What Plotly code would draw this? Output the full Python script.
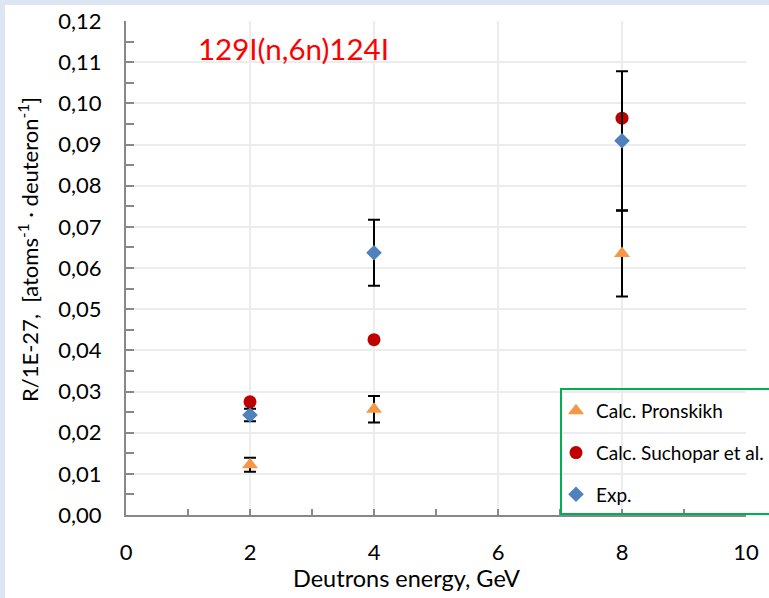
import plotly.graph_objects as go

energy = [2, 4, 8]
pronskikh = [0.0122, 0.0257, 0.0635]
pronskikh_err = [0.0017, 0.0032, 0.0104]
suchopar = [0.0275, 0.0426, 0.0964]
exp_vals = [0.0243, 0.0637, 0.0909]
exp_err = [0.0015, 0.0080, 0.0169]

W, H = 769, 598
L, R, T, B = 126, 746, 21, 515

def px(x):
    return (x - L) / (R - L)

def py(y):
    return (B - y) / (B - T)

FONT = "Lato, Carlito, Calibri, sans-serif"

fig = go.Figure()
fig.add_trace(go.Scatter(
    x=energy, y=pronskikh, mode="markers", name="Calc. Pronskikh",
    legendgroup="a",
    marker=dict(symbol="triangle-up", size=14, color="#f79646"),
    error_y=dict(type="data", array=pronskikh_err, color="black", thickness=2, width=6),
))
fig.add_trace(go.Scatter(
    x=energy, y=suchopar, mode="markers", name="Calc. Suchopar et al.",
    legendgroup="b",
    marker=dict(symbol="circle", size=13, color="#c00000"),
))
fig.add_trace(go.Scatter(
    x=energy, y=exp_vals, mode="markers", name="Exp.",
    legendgroup="c",
    marker=dict(symbol="diamond", size=12, color="#4f81bd"),
    error_y=dict(type="data", array=exp_err, color="black", thickness=2, width=6),
))

fig.update_layout(
    width=W, height=H,
    margin=dict(l=L, r=W - R, t=T, b=H - B, pad=0, autoexpand=False),
    paper_bgcolor="white",
    plot_bgcolor="white",
    separators=", ",
    font=dict(family=FONT, color="black"),
    showlegend=True,
    legend=dict(
        x=px(556), y=py(392), xanchor="left", yanchor="top",
        bgcolor="rgba(0,0,0,0)", borderwidth=0,
        font=dict(family=FONT, size=19, color="black"),
        tracegroupgap=14, traceorder="grouped",
    ),
    xaxis=dict(
        range=[0, 10], dtick=2, tick0=0,
        showgrid=True, gridcolor="#ececec", gridwidth=1.5,
        showline=True, linecolor="#888888", linewidth=2,
        ticks="inside", ticklen=6, tickcolor="#888888", tickwidth=2,
        minor=dict(dtick=1, ticks="inside", ticklen=6, tickcolor="#888888", tickwidth=2, showgrid=False),
        tickfont=dict(family=FONT, size=22),
        ticklabelstandoff=17,
        zeroline=False, mirror=False, automargin=False,
    ),
    yaxis=dict(
        range=[0, 0.12], dtick=0.01, tick0=0, tickformat=".2f",
        showgrid=True, gridcolor="#ececec", gridwidth=1.5,
        showline=True, linecolor="#888888", linewidth=2,
        ticks="inside", ticklen=8, tickcolor="#888888", tickwidth=2,
        minor=dict(dtick=0.005, ticks="inside", ticklen=8, tickcolor="#888888", tickwidth=2, showgrid=False),
        tickfont=dict(family=FONT, size=22),
        ticklabelstandoff=18,
        zeroline=False, automargin=False,
    ),
    shapes=[
        dict(type="rect", xref="paper", yref="paper",
             x0=px(0), x1=px(W), y0=py(0), y1=py(5),
             fillcolor="#dce6f2", line=dict(width=0), layer="below"),
        dict(type="rect", xref="paper", yref="paper",
             x0=px(0), x1=px(5), y0=py(0), y1=py(H),
             fillcolor="#dce6f2", line=dict(width=0), layer="below"),
        dict(type="rect", xref="paper", yref="paper",
             x0=px(561), x1=px(W + 20), y0=py(514), y1=py(389),
             fillcolor="rgba(0,0,0,0)", line=dict(color="#00b050", width=2), layer="above"),
    ],
    annotations=[
        dict(text="129I(n,6n)124I", xref="paper", yref="paper",
             x=px(293), y=py(48), xanchor="center", yanchor="middle", showarrow=False,
             font=dict(family=FONT, size=29.5, color="#ff0000")),
        dict(text="Deutrons energy, GeV", xref="paper", yref="paper",
             x=px(406), y=py(578), xanchor="center", yanchor="middle", showarrow=False,
             font=dict(family=FONT, size=23.5, color="black")),
        dict(text="R/1E-27,  [atoms<sup>-1</sup> · deuteron<sup>-1</sup>]", xref="paper", yref="paper",
             x=px(28), y=py(250), xanchor="center", yanchor="middle", showarrow=False,
             textangle=-90,
             font=dict(family=FONT, size=22, color="black")),
    ],
)

fig.write_html("out.html")
